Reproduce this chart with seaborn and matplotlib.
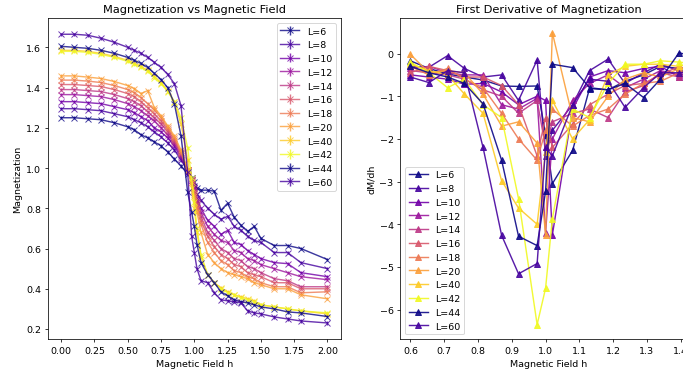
import numpy as np
import pandas as pd
import matplotlib
matplotlib.use('Agg')
import matplotlib.pyplot as plt
import seaborn as sns

# system sizes
sizes = [6, 8, 10, 12, 14, 16, 18, 20, 40, 42, 44, 60]

# magnetic field grid for M(h)
h = [0.0, 0.1, 0.2, 0.3, 0.4, 0.5, 0.55, 0.6, 0.65, 0.7, 0.75, 0.8, 0.85, 0.9, 0.95, 0.98,
     1.0, 1.02, 1.05, 1.1, 1.15, 1.2, 1.25, 1.3, 1.35, 1.4, 1.45, 1.5, 1.6, 1.7, 1.8, 2.0]

M_L6 = [1.25, 1.25, 1.245, 1.24, 1.225, 1.205, 1.19, 1.165, 1.15, 1.13, 1.11, 1.08, 1.045, 1.01, 0.97, 0.95,
        0.93, 0.90, 0.89, 0.89, 0.885, 0.79, 0.825, 0.755, 0.715, 0.685, 0.71, 0.65, 0.615, 0.615, 0.60, 0.545]
M_L8 = [1.295, 1.295, 1.29, 1.285, 1.27, 1.255, 1.24, 1.225, 1.205, 1.18, 1.155, 1.125, 1.09, 1.04, 0.99, 0.95,
        0.91, 0.87, 0.84, 0.80, 0.77, 0.745, 0.76, 0.71, 0.69, 0.66, 0.64, 0.63, 0.58, 0.58, 0.53, 0.50]
M_L10 = [1.33, 1.33, 1.325, 1.32, 1.305, 1.29, 1.275, 1.255, 1.235, 1.20, 1.18, 1.15, 1.11, 1.05, 0.98, 0.94,
         0.90, 0.85, 0.80, 0.74, 0.71, 0.67, 0.69, 0.63, 0.62, 0.59, 0.57, 0.55, 0.53, 0.525, 0.48, 0.46]
M_L12 = [1.365, 1.365, 1.36, 1.355, 1.34, 1.32, 1.305, 1.285, 1.26, 1.235, 1.20, 1.165, 1.12, 1.06, 0.99, 0.94,
         0.90, 0.84, 0.78, 0.71, 0.67, 0.64, 0.63, 0.59, 0.58, 0.55, 0.54, 0.52, 0.50, 0.48, 0.46, 0.445]
M_L14 = [1.39, 1.39, 1.385, 1.38, 1.365, 1.345, 1.33, 1.31, 1.28, 1.25, 1.22, 1.18, 1.13, 1.07, 0.99, 0.94,
         0.89, 0.83, 0.76, 0.68, 0.64, 0.60, 0.58, 0.55, 0.54, 0.51, 0.50, 0.48, 0.45, 0.44, 0.41, 0.41]
M_L16 = [1.415, 1.415, 1.41, 1.405, 1.39, 1.37, 1.355, 1.33, 1.30, 1.27, 1.235, 1.19, 1.14, 1.075, 0.99, 0.94,
         0.88, 0.82, 0.74, 0.66, 0.61, 0.57, 0.55, 0.52, 0.51, 0.48, 0.47, 0.46, 0.43, 0.43, 0.40, 0.40]
M_L18 = [1.437, 1.437, 1.432, 1.425, 1.41, 1.39, 1.375, 1.35, 1.32, 1.29, 1.25, 1.20, 1.15, 1.08, 0.99, 0.93,
         0.87, 0.80, 0.72, 0.63, 0.58, 0.54, 0.52, 0.49, 0.48, 0.46, 0.45, 0.43, 0.41, 0.41, 0.38, 0.385]
M_L20 = [1.458, 1.458, 1.452, 1.445, 1.43, 1.41, 1.395, 1.37, 1.385, 1.30, 1.26, 1.21, 1.16, 1.09, 0.99, 0.93,
         0.86, 0.78, 0.68, 0.57, 0.53, 0.50, 0.48, 0.47, 0.46, 0.45, 0.43, 0.42, 0.40, 0.40, 0.37, 0.35]
M_L40 = [1.585, 1.585, 1.58, 1.57, 1.555, 1.535, 1.52, 1.505, 1.485, 1.455, 1.425, 1.385, 1.33, 1.22, 1.04, 0.90,
         0.80, 0.68, 0.56, 0.47, 0.43, 0.405, 0.385, 0.37, 0.36, 0.35, 0.34, 0.32, 0.31, 0.30, 0.29, 0.275]
M_L42 = [1.58, 1.58, 1.575, 1.565, 1.55, 1.53, 1.515, 1.50, 1.48, 1.45, 1.42, 1.38, 1.33, 1.25, 1.10, 0.95,
         0.83, 0.70, 0.57, 0.47, 0.43, 0.40, 0.38, 0.37, 0.355, 0.345, 0.335, 0.32, 0.31, 0.30, 0.29, 0.28]
M_L44 = [1.605, 1.60, 1.595, 1.585, 1.57, 1.55, 1.535, 1.52, 1.50, 1.47, 1.44, 1.40, 1.32, 1.16, 0.88, 0.78,
         0.71, 0.62, 0.53, 0.47, 0.43, 0.385, 0.365, 0.345, 0.335, 0.33, 0.32, 0.31, 0.30, 0.285, 0.28, 0.262]
M_L60 = [1.665, 1.665, 1.66, 1.645, 1.625, 1.60, 1.585, 1.57, 1.55, 1.525, 1.50, 1.465, 1.42, 1.31, 0.98, 0.66,
         0.58, 0.50, 0.44, 0.43, 0.38, 0.345, 0.34, 0.335, 0.33, 0.29, 0.28, 0.275, 0.26, 0.25, 0.24, 0.23]

# field grid for dM/dh
hd = [0.6, 0.655, 0.71, 0.76, 0.815, 0.87, 0.92, 0.975, 1.0, 1.02, 1.08, 1.13, 1.185, 1.235, 1.29, 1.34, 1.395, 1.45]

d_L6 = [-0.17, -0.35, -0.48, -0.55, -0.62, -0.76, -0.77, -0.76, -1.9, -3.05, -2.27, -0.82, -0.85, -0.65, -0.5, -0.3, -0.35, -0.3]
d_L8 = [-0.3, -0.32, -0.05, -0.35, -0.55, -0.5, -1.1, -0.15, -2.4, -1.8, -1.2, -0.4, -0.13, -0.7, -0.45, -0.25, -0.4, -0.45]
d_L10 = [-0.5, -0.55, -0.6, -0.72, -0.7, -0.9, -1.2, -1.0, -1.1, -4.25, -1.3, -0.55, -0.4, -0.45, -0.35, -0.3, -0.55, -0.5]
d_L12 = [-0.35, -0.3, -0.45, -0.5, -0.5, -1.2, -1.3, -1.05, -4.2, -2.0, -1.1, -0.7, -0.5, -0.8, -0.6, -0.4, -0.5, -0.45]
d_L14 = [-0.4, -0.45, -0.5, -0.6, -0.85, -1.0, -1.4, -1.1, -2.2, -1.6, -1.4, -1.3, -1.5, -0.9, -0.75, -0.45, -0.55, -0.5]
d_L16 = [-0.45, -0.3, -0.4, -0.55, -0.55, -0.75, -1.2, -2.4, -1.5, -2.2, -1.65, -1.2, -0.95, -0.75, -0.7, -0.5, -0.3, -0.5]
d_L18 = [-0.3, -0.5, -0.35, -0.6, -0.8, -1.4, -2.0, -2.5, -1.8, -1.3, -1.7, -1.45, -1.3, -0.95, -0.7, -0.65, -0.45, -0.4]
d_L20 = [-0.02, -0.45, -0.4, -0.45, -0.95, -1.7, -1.6, -2.1, -4.25, 0.49, -1.5, -1.6, -1.0, -0.6, -0.45, -0.55, -0.35, -0.3]
d_L40 = [-0.25, -0.4, -0.5, -0.95, -1.4, -2.98, -3.62, -4.0, -2.3, -1.1, -2.0, -1.55, -0.5, -0.3, -0.25, -0.25, -0.3, -0.2]
d_L42 = [-0.2, -0.45, -0.8, -0.6, -1.2, -1.5, -3.4, -6.35, -5.5, -3.87, -1.3, -1.5, -0.7, -0.25, -0.25, -0.17, -0.2, -0.25]
d_L44 = [-0.3, -0.45, -0.55, -0.7, -1.18, -2.5, -4.28, -4.5, -3.23, -0.25, -0.33, -0.8, -0.85, -0.7, -1.03, -0.6, 0.02, -0.1]
d_L60 = [-0.55, -0.68, -0.4, -0.45, -2.2, -4.26, -5.16, -4.92, -2.2, -2.4, -1.2, -0.6, -0.65, -1.26, -0.8, -0.45, -0.45, -0.4]

M_all = [M_L6, M_L8, M_L10, M_L12, M_L14, M_L16, M_L18, M_L20, M_L40, M_L42, M_L44, M_L60]
d_all = [d_L6, d_L8, d_L10, d_L12, d_L14, d_L16, d_L18, d_L20, d_L40, d_L42, d_L44, d_L60]

# full plasma range in 10 steps, reused for the last two sizes
pal = sns.color_palette(plt.cm.plasma(np.linspace(0, 1, 10)))

# drawn big and saved at low dpi, like a shrunk screenshot
fig = plt.figure(figsize=(10, 5.461), dpi=68.3)
ax1 = fig.add_axes([0.070, 0.088, 0.429, 0.861])
ax2 = fig.add_axes([0.586, 0.088, 0.434, 0.861])

for i, L in enumerate(sizes):
    c = pal[i % 10]
    ax1.errorbar(h, M_all[i], yerr=0.008, marker='x', ms=6, color=c, alpha=0.8,
                 label='L={}'.format(L))
    ax2.plot(hd, d_all[i], marker='^', ms=6, color=c, alpha=0.9, label='L={}'.format(L))

ax1.set_title('Magnetization vs Magnetic Field')
ax1.set_xlabel('Magnetic Field h')
ax1.set_ylabel('Magnetization')
ax1.legend(loc='upper right')

ax2.set_title('First Derivative of Magnetization')
ax2.set_xlabel('Magnetic Field h')
ax2.set_ylabel('dM/dh')
ax2.set_xlim(0.57, 1.447)
ax2.legend(loc='lower left')

fig.savefig('out.png', dpi=68.3)
